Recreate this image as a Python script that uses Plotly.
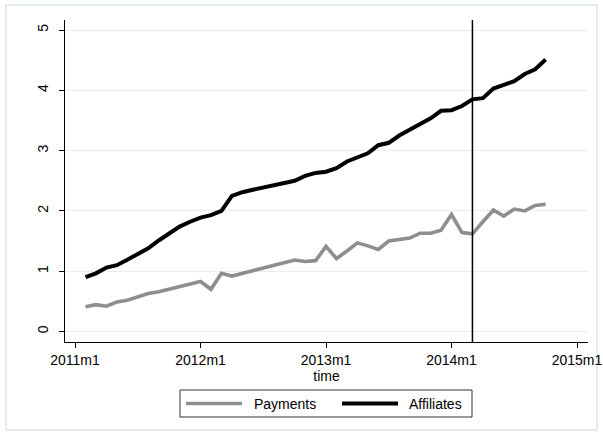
import pandas as pd
import plotly.graph_objects as go

# Monthly series, 2011m2 .. 2014m10
start_month = "2011-02"
payments = [0.41, 0.445, 0.42, 0.49, 0.52, 0.58, 0.63, 0.66, 0.705, 0.755,
            0.79, 0.83, 0.70, 0.965, 0.92, 0.965, 1.01, 1.05, 1.09, 1.13,
            1.185, 1.16, 1.175, 1.41, 1.21, 1.335, 1.47, 1.42, 1.36, 1.50,
            1.52, 1.55, 1.63, 1.63, 1.68, 1.94, 1.64, 1.62, 1.82, 2.015,
            1.915, 2.03, 2.00, 2.09, 2.11]
affiliates = [0.90, 0.965, 1.06, 1.10, 1.19, 1.285, 1.38, 1.51, 1.63, 1.74,
              1.82, 1.89, 1.93, 2.00, 2.25, 2.31, 2.35, 2.39, 2.42, 2.46,
              2.50, 2.58, 2.63, 2.65, 2.71, 2.82, 2.89, 2.955, 3.09, 3.13,
              3.25, 3.35, 3.44, 3.535, 3.66, 3.67, 3.74, 3.85, 3.87, 4.03,
              4.09, 4.15, 4.27, 4.35, 4.51]
event_month = "2014-03"
x_tick_labels = ["2011m1", "2012m1", "2013m1", "2014m1", "2015m1"]
y_tick_vals = [0, 1, 2, 3, 4, 5]

base = pd.Period("2011-01", freq="M")
periods = pd.period_range(start_month, periods=len(payments), freq="M")
t = [(p - base).n for p in periods]
t_event = (pd.Period(event_month, freq="M") - base).n
x_tick_vals = [12 * i for i in range(len(x_tick_labels))]

W, H = 603, 436
ML, MR, MT, MB = 65, 15, 20, 94

GRAY = "#8E8E8E"
FONT = "Liberation Sans, Arial, sans-serif"

fig = go.Figure()
fig.add_trace(go.Scatter(x=t, y=payments, mode="lines", name="Payments",
                         line=dict(color=GRAY, width=3.6)))
fig.add_trace(go.Scatter(x=t, y=affiliates, mode="lines", name="Affiliates",
                         line=dict(color="#000000", width=4)))

# event marker line
fig.add_shape(type="line", xref="x", yref="paper", x0=t_event, x1=t_event,
              y0=0, y1=1, line=dict(color="#000000", width=1.5), layer="above")

# outer frame of the graph region
def px_x(p):
    return (p - ML) / (W - ML - MR)

def px_y(p):
    return (H - MB - p) / (H - MT - MB)

fig.add_shape(type="rect", xref="paper", yref="paper",
              x0=px_x(6), x1=px_x(597), y0=px_y(430), y1=px_y(5),
              line=dict(color="#DCE6EA", width=1.5), layer="below")

# legend box
fig.add_shape(type="rect", xref="paper", yref="paper",
              x0=px_x(180), x1=px_x(472), y0=px_y(417), y1=px_y(390),
              line=dict(color="#333333", width=1), fillcolor="white")
ly = px_y(403.5)
fig.add_shape(type="line", xref="paper", yref="paper",
              x0=px_x(186), x1=px_x(242), y0=ly, y1=ly,
              line=dict(color=GRAY, width=3.6))
fig.add_shape(type="line", xref="paper", yref="paper",
              x0=px_x(342), x1=px_x(398), y0=ly, y1=ly,
              line=dict(color="#000000", width=4))
for label, xpix in [("Payments", 252), ("Affiliates", 407)]:
    fig.add_annotation(text=label, xref="paper", yref="paper",
                       x=px_x(xpix), y=ly, xanchor="left", yanchor="middle",
                       showarrow=False, font=dict(size=14, color="#000000", family=FONT))

fig.update_layout(
    width=W, height=H,
    margin=dict(l=ML, r=MR, t=MT, b=MB, autoexpand=False),
    paper_bgcolor="white", plot_bgcolor="white",
    showlegend=False,
    font=dict(family=FONT, size=14, color="#000000"),
    xaxis=dict(range=[-0.96, 49.05], tickmode="array", tickvals=x_tick_vals,
               ticktext=x_tick_labels, ticks="outside", ticklen=5, tickwidth=1,
               tickcolor="#000000", showline=True, linecolor="#000000", linewidth=1,
               showgrid=False, zeroline=False, automargin=False,
               title=dict(text="time", standoff=2, font=dict(size=14))),
    yaxis=dict(range=[-0.174, 5.166], tickmode="array", tickvals=y_tick_vals,
               ticks="outside", ticklen=5, tickwidth=1, tickcolor="#000000",
               tickangle=-90, ticklabelstandoff=5, automargin=False,
               showline=True, linecolor="#000000", linewidth=1,
               showgrid=True, gridcolor="#E6EEF0", gridwidth=1, zeroline=False),
)

fig.write_html("out.html")
